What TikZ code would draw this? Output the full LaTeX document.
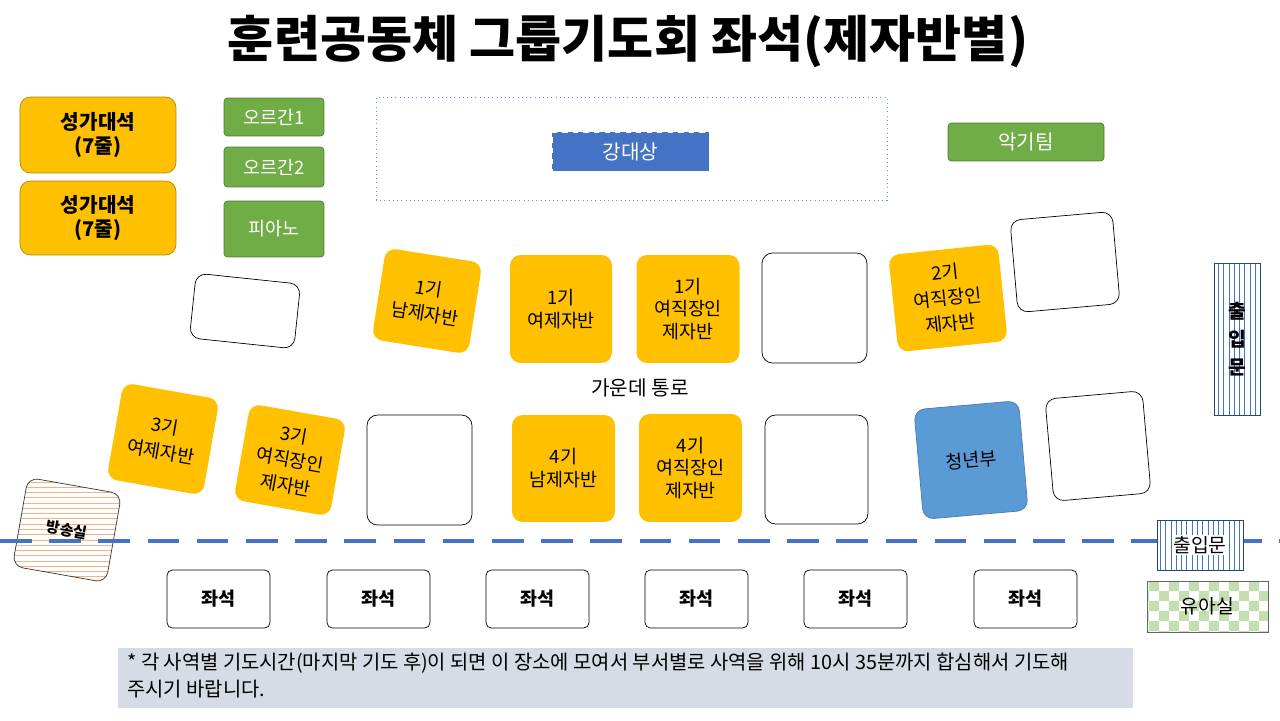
\documentclass[tikz,border=0pt]{standalone}
\usepackage{fontspec}
\setmainfont{Noto Sans CJK KR}
\usetikzlibrary{patterns}
\definecolor{yel}{HTML}{FFC000}
\definecolor{grn}{HTML}{70AD47}
\definecolor{blu}{HTML}{4472C4}
\definecolor{lblu}{HTML}{5B9BD5}
\definecolor{notebg}{HTML}{D6DCE5}
\definecolor{orn}{HTML}{F4B183}
\definecolor{lgrn}{HTML}{A9D18E}
\tikzset{
 px/.style={x=0.02cm,y=-0.02cm},
 ybox/.style={fill=yel,rounded corners=6pt,inner sep=0pt,align=center,font=\fontsize{10.5}{13}\selectfont},
 rbox/.style={ybox,font=\fontsize{10.5}{14.5}\selectfont},
 ebox/.style={draw=black,fill=white,rounded corners=6pt,inner sep=0pt},
 gbox/.style={fill=grn,draw=grn!70!black,rounded corners=2pt,text=white,font=\fontsize{10.5}{13}\selectfont,inner sep=0pt},
 seat/.style={draw=black,rounded corners=3pt,minimum width=2.06cm,minimum height=1.16cm,font=\bfseries\fontsize{10.5}{13}\selectfont,inner sep=0pt},
}
\begin{document}
\begin{tikzpicture}[px]
\useasboundingbox (0,0) rectangle (1280,720);
\node[font=\bfseries\fontsize{28.5}{32}\selectfont] (title) at (628,42) {훈련공동체 그룹기도회 좌석(제자반별)};
% choir
\node[ybox,draw=yel!70!black,minimum width=3.12cm,minimum height=1.52cm,font=\bfseries\fontsize{11.5}{14}\selectfont] (c1) at (98,135) {성가대석\\(7줄)};
\node[ybox,draw=yel!70!black,minimum width=3.12cm,minimum height=1.48cm,font=\bfseries\fontsize{11.5}{14}\selectfont] (c2) at (98,218) {성가대석\\(7줄)};
\node[gbox,minimum width=2cm,minimum height=0.76cm] (o1) at (274,117) {오르간1};
\node[gbox,minimum width=2cm,minimum height=0.8cm] (o2) at (274,167) {오르간2};
\node[gbox,minimum width=2cm,minimum height=1.12cm] (pi) at (274,229) {피아노};
\node[gbox,minimum width=3.12cm,minimum height=0.76cm,font=\fontsize{11.5}{14}\selectfont] (ak) at (1026,142) {악기팀};
% stage
\node[draw=lblu,dotted,minimum width=10.22cm,minimum height=2.06cm] (stage) at (631.5,148.5) {};
\node[fill=blu,draw=white,dashed,minimum width=3.14cm,minimum height=0.78cm,text=white,font=\fontsize{11.5}{14}\selectfont,inner sep=0pt] (gd) at (630.5,151.5) {강대상};
% row 1
\node[ebox,minimum width=2.1cm,minimum height=1.3cm,rotate=-6] (e1) at (245,311) {};
\node[rbox,minimum width=1.95cm,minimum height=1.85cm,rotate=-9] (b1) at (427,301) {1기\\남제자반};
\node[ybox,minimum width=2.04cm,minimum height=2.16cm] (b2) at (561,309) {1기\\여제자반};
\node[ybox,minimum width=2.06cm,minimum height=2.16cm] (b3) at (688,309) {1기\\여직장인\\제자반};
\node[ebox,minimum width=2.1cm,minimum height=2.2cm] (e2) at (814.5,308) {};
\node[rbox,minimum width=2.2cm,minimum height=1.95cm,rotate=6] (b4) at (948,298) {2기\\여직장인\\제자반};
\node[ebox,minimum width=2.05cm,minimum height=1.85cm,rotate=5] (e3) at (1065,262) {};
\node[font=\fontsize{11.5}{14}\selectfont] (mid) at (640,388) {가운데 통로};
% row 2
\node[rbox,minimum width=1.95cm,minimum height=1.95cm,rotate=-10] (b5) at (163,439) {3기\\여제자반};
\node[rbox,minimum width=1.95cm,minimum height=1.95cm,rotate=-10] (b6) at (290,460) {3기\\여직장인\\제자반};
\node[ebox,minimum width=2.1cm,minimum height=2.2cm] (e4) at (419.5,470) {};
\node[ybox,minimum width=2.06cm,minimum height=2.14cm] (b7) at (563.5,468.5) {4기\\남제자반};
\node[ybox,minimum width=2.06cm,minimum height=2.16cm] (b8) at (690.5,468) {4기\\여직장인\\제자반};
\node[ebox,minimum width=2.06cm,minimum height=2.18cm] (e5) at (816.5,469.5) {};
\node[ybox,fill=lblu,draw=lblu!80!black,minimum width=2.1cm,minimum height=2.2cm,rotate=5] (b9) at (971,460) {청년부};
\node[ebox,minimum width=1.95cm,minimum height=2.05cm,rotate=5] (e6) at (1098,446) {};
% broadcasting
\node[draw=black!80,preaction={fill=white},pattern=horizontal lines,pattern color=orn,rounded corners=6pt,minimum width=1.9cm,minimum height=1.8cm,rotate=-10,font=\bfseries\fontsize{8.5}{10}\selectfont,inner sep=0pt] (bs) at (67,530) {방송실};
% dashed line
\coordinate (dl) at (0,541);
\coordinate (dr) at (1280,541);
\draw[blu,line width=2.5pt,dash pattern=on 18pt off 10pt] (dl) -- (dr);
% doors
\node[draw=blu!60!black,preaction={fill=white},pattern=vertical lines,pattern color=blu,minimum width=0.92cm,minimum height=3.04cm,inner sep=0pt] (d1) at (1237,339) {};
\node[font=\bfseries\fontsize{11}{16}\selectfont,align=center] at (d1) {출\\입\\문};
\node[draw=blu!60!black,preaction={fill=white},pattern=vertical lines,pattern color=blu,minimum width=1.72cm,minimum height=1cm,inner sep=0pt] (d2) at (1200,545) {};
\node[fill=white,inner sep=1pt,font=\fontsize{11}{13}\selectfont] at (d2) {출입문};
\node[draw=black!60,preaction={fill=white},pattern=checkerboard,pattern color=lgrn!70,minimum width=2.42cm,minimum height=1.02cm,inner sep=0pt] (ua) at (1207.5,606.5) {};
\node[font=\fontsize{11}{13}\selectfont] at (ua) {유아실};
% seats
\foreach \n/\x in {s1/218.5,s2/378.5,s3/537.5,s4/696.5,s5/855.5,s6/1025.5}
  \node[seat] (\n) at (\x,599) {좌석};
% note
\node[fill=notebg,minimum width=20.3cm,minimum height=1.2cm,inner sep=0pt] (nb) at (625.5,678) {};
\node[anchor=north west,align=left,font=\fontsize{11.3}{15.3}\selectfont,inner sep=0pt] (nt) at (127,653) {* 각 사역별 기도시간(마지막 기도 후)이 되면 이 장소에 모여서 부서별로 사역을 위해 10시 35분까지 합심해서 기도해\\주시기 바랍니다.};
\end{tikzpicture}
\end{document}
